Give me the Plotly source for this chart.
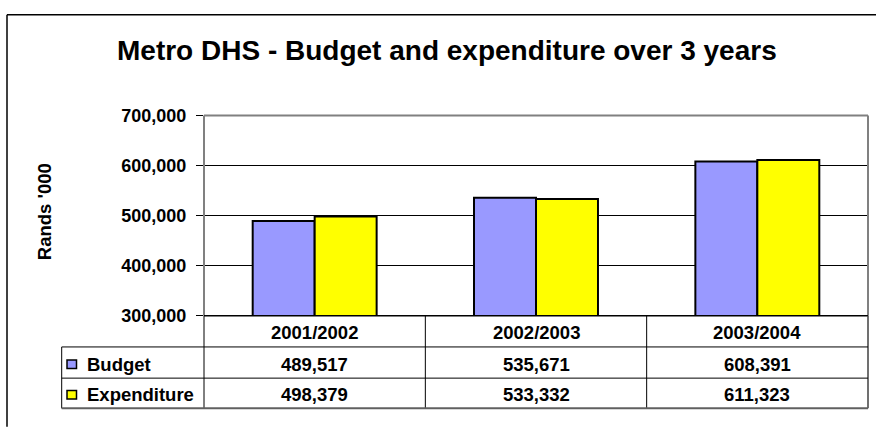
import plotly.graph_objects as go

# Data
years = ["2001/2002", "2002/2003", "2003/2004"]
budget = [489517, 535671, 608391]
expenditure = [498379, 533332, 611323]
series_names = ["Budget", "Expenditure"]
series_colors = ["#9999FF", "#FFFF00"]
y_ticks = [300000, 400000, 500000, 600000, 700000]

W, H = 876, 432
FONT = "Liberation Sans, Arial, Helvetica, sans-serif"

# Pixel geometry of the plot area and data table
PL, PR, PT, PB = 204, 868, 110.7, 320.7
ROW1, ROW2, ROW3 = 353.3, 386.0, 417.7
LEG_L = 61.7


def px(x):
    return x / W


def py(y):
    return 1 - y / H


fig = go.Figure()
for name, vals, col in zip(series_names, [budget, expenditure], series_colors):
    fig.add_trace(go.Bar(
        x=years, y=vals, name=name,
        marker=dict(color=col, line=dict(color="black", width=2)),
        hoverinfo="x+y+name",
    ))

shapes = []


def hline(y, x0, x1, color="black", width=1):
    shapes.append(dict(type="line", xref="paper", yref="paper",
                       x0=px(x0), x1=px(x1), y0=py(y), y1=py(y),
                       line=dict(color=color, width=width), layer="above"))


def vline(x, y0, y1, color="black", width=1):
    shapes.append(dict(type="line", xref="paper", yref="paper",
                       x0=px(x), x1=px(x), y0=py(y0), y1=py(y1),
                       line=dict(color=color, width=width), layer="above"))


# outer chart frame
hline(5, 7, W + 5, width=1.5)
vline(7, 5, H + 5, width=1.5)

# plot area frame (top/sides gray, bottom black)
hline(PT, PL, PR, color="#808080", width=2)
vline(PR, PT, PB, color="#808080", width=2)
vline(PL, PT, PB, color="#808080", width=2)
hline(PB, PL, PR, color="black", width=1.5)

# data table grid
col_w = (PR - PL) / len(years)
for i in range(1, len(years)):
    vline(PL + i * col_w, PB, ROW3)
vline(PL, PB, ROW3)
vline(PR, PB, ROW3, color="#404040", width=1.5)
vline(LEG_L, ROW1, ROW3)
hline(ROW1, LEG_L, PR)
hline(ROW2, LEG_L, PR)
hline(ROW3, LEG_L, PR, color="#606060", width=2)

annotations = []
cell_font = dict(family=FONT, size=18.5, color="black", weight="bold")

# table header and values
row_centers = [338.5, 371.5, 403.5]
for i, yr in enumerate(years):
    annotations.append(dict(x=yr, xref="x", y=py(row_centers[0]), yref="paper",
                            text=yr, showarrow=False,
                            xanchor="center", yanchor="middle", font=cell_font))
    for r, vals in enumerate([budget, expenditure]):
        annotations.append(dict(x=yr, xref="x", y=py(row_centers[r + 1]), yref="paper",
                                text=f"{vals[i]:,}", showarrow=False,
                                xanchor="center", yanchor="middle", font=cell_font))

# legend keys inside the table
for r, (name, col) in enumerate(zip(series_names, series_colors)):
    cy = row_centers[r + 1]
    shapes.append(dict(type="rect", xref="paper", yref="paper",
                       x0=px(67), x1=px(76.5), y0=py(cy - 4.5), y1=py(cy + 4.5),
                       fillcolor=col, line=dict(color="black", width=1.5), layer="above"))
    annotations.append(dict(x=px(85), xref="paper", y=py(cy), yref="paper",
                            text=name, showarrow=False,
                            xanchor="left", yanchor="middle", font=cell_font))

# chart title
annotations.append(dict(x=px(447.5), xref="paper", y=py(42), yref="paper",
                        text="Metro DHS - Budget and expenditure over 3 years",
                        showarrow=False, xanchor="center", yanchor="middle",
                        font=dict(family=FONT, size=28, color="black", weight="bold")))

# value axis title
annotations.append(dict(x=px(44), xref="paper", y=py(212), yref="paper",
                        text="Rands '000", textangle=-90,
                        showarrow=False, xanchor="center", yanchor="middle",
                        font=dict(family=FONT, size=18.5, color="black", weight="bold")))

fig.update_layout(
    width=W, height=H,
    margin=dict(l=0, r=0, t=0, b=0),
    paper_bgcolor="white", plot_bgcolor="white",
    barmode="group", bargap=0.44, bargroupgap=0,
    showlegend=False,
    shapes=shapes, annotations=annotations,
    xaxis=dict(domain=[px(PL), px(PR)], showticklabels=False, showgrid=False,
               showline=False, zeroline=False, ticks=""),
    yaxis=dict(domain=[py(PB), py(PT)], range=[300000, 700000],
               tickvals=y_ticks, tickformat=",", ticks="outside", ticklen=7,
               tickcolor="black", tickwidth=1, ticklabelstandoff=6,
               showgrid=True, gridcolor="black", gridwidth=1,
               showline=False, zeroline=False,
               tickfont=dict(family=FONT, size=18, color="black", weight="bold")),
    font=dict(family=FONT),
)

fig.write_html("out.html")
